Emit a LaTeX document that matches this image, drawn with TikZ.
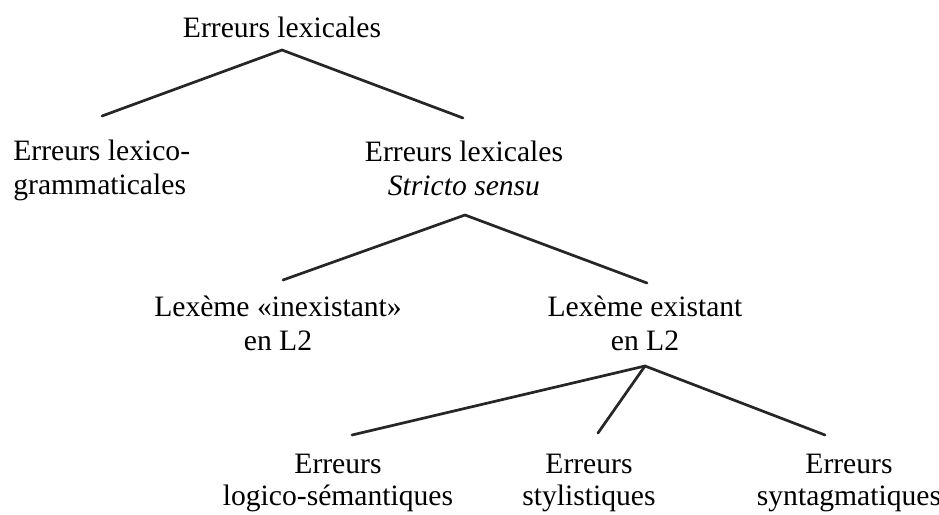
\documentclass[tikz,border=0pt]{standalone}
\usepackage{fontspec}
\setmainfont{Liberation Serif}
\begin{document}
\begin{tikzpicture}[x=0.5pt,y=-0.5pt,
  lbl/.style={inner sep=0pt,anchor=base,align=center,
    font=\fontsize{14.8}{17}\selectfont},
  lowlbl/.style={lbl,font=\fontsize{14.8}{16}\selectfont},
  branch/.style={line width=1.35pt,line cap=round,line join=round,draw=black!85}]
\useasboundingbox (0,0) rectangle (939,515);
% labels (base anchor = baseline of the last line)
\node[lbl] (root) at (282,37) {Erreurs lexicales};
\node[lbl,anchor=base west,align=left] (lexgram) at (13,194) {Erreurs lexico-\\grammaticales};
\node[lbl] (strict) at (464,195) {Erreurs lexicales\\\textit{Stricto sensu}};
\node[lbl] (inex) at (278,350) {Lexème «inexistant»\\en L2};
\node[lbl] (exist) at (645,350) {Lexème existant\\en L2};
\node[lowlbl] (logsem) at (338,505) {Erreurs\\logico-sémantiques};
\node[lowlbl] (styl) at (589,505) {Erreurs\\stylistiques};
\node[lowlbl] (synt) at (849,505) {Erreurs\\syntagmatiques};
% branch points just under each parent
\coordinate (j1) at (282,50);
\coordinate (j2) at (465,215);
\coordinate (j3) at (645,366);
% ends just above each child
\coordinate (e1) at (102,116);
\coordinate (e2) at (463,118);
\coordinate (e3) at (283,280);
\coordinate (e4) at (647,283);
\coordinate (e5) at (352,435);
\coordinate (e6) at (598,433);
\coordinate (e7) at (825,435);
\draw[branch] (e1) -- (j1) -- (e2);
\draw[branch] (e3) -- (j2) -- (e4);
\draw[branch] (e5) -- (j3) -- (e7);
\draw[branch] (j3) -- (e6);
\end{tikzpicture}
\end{document}
